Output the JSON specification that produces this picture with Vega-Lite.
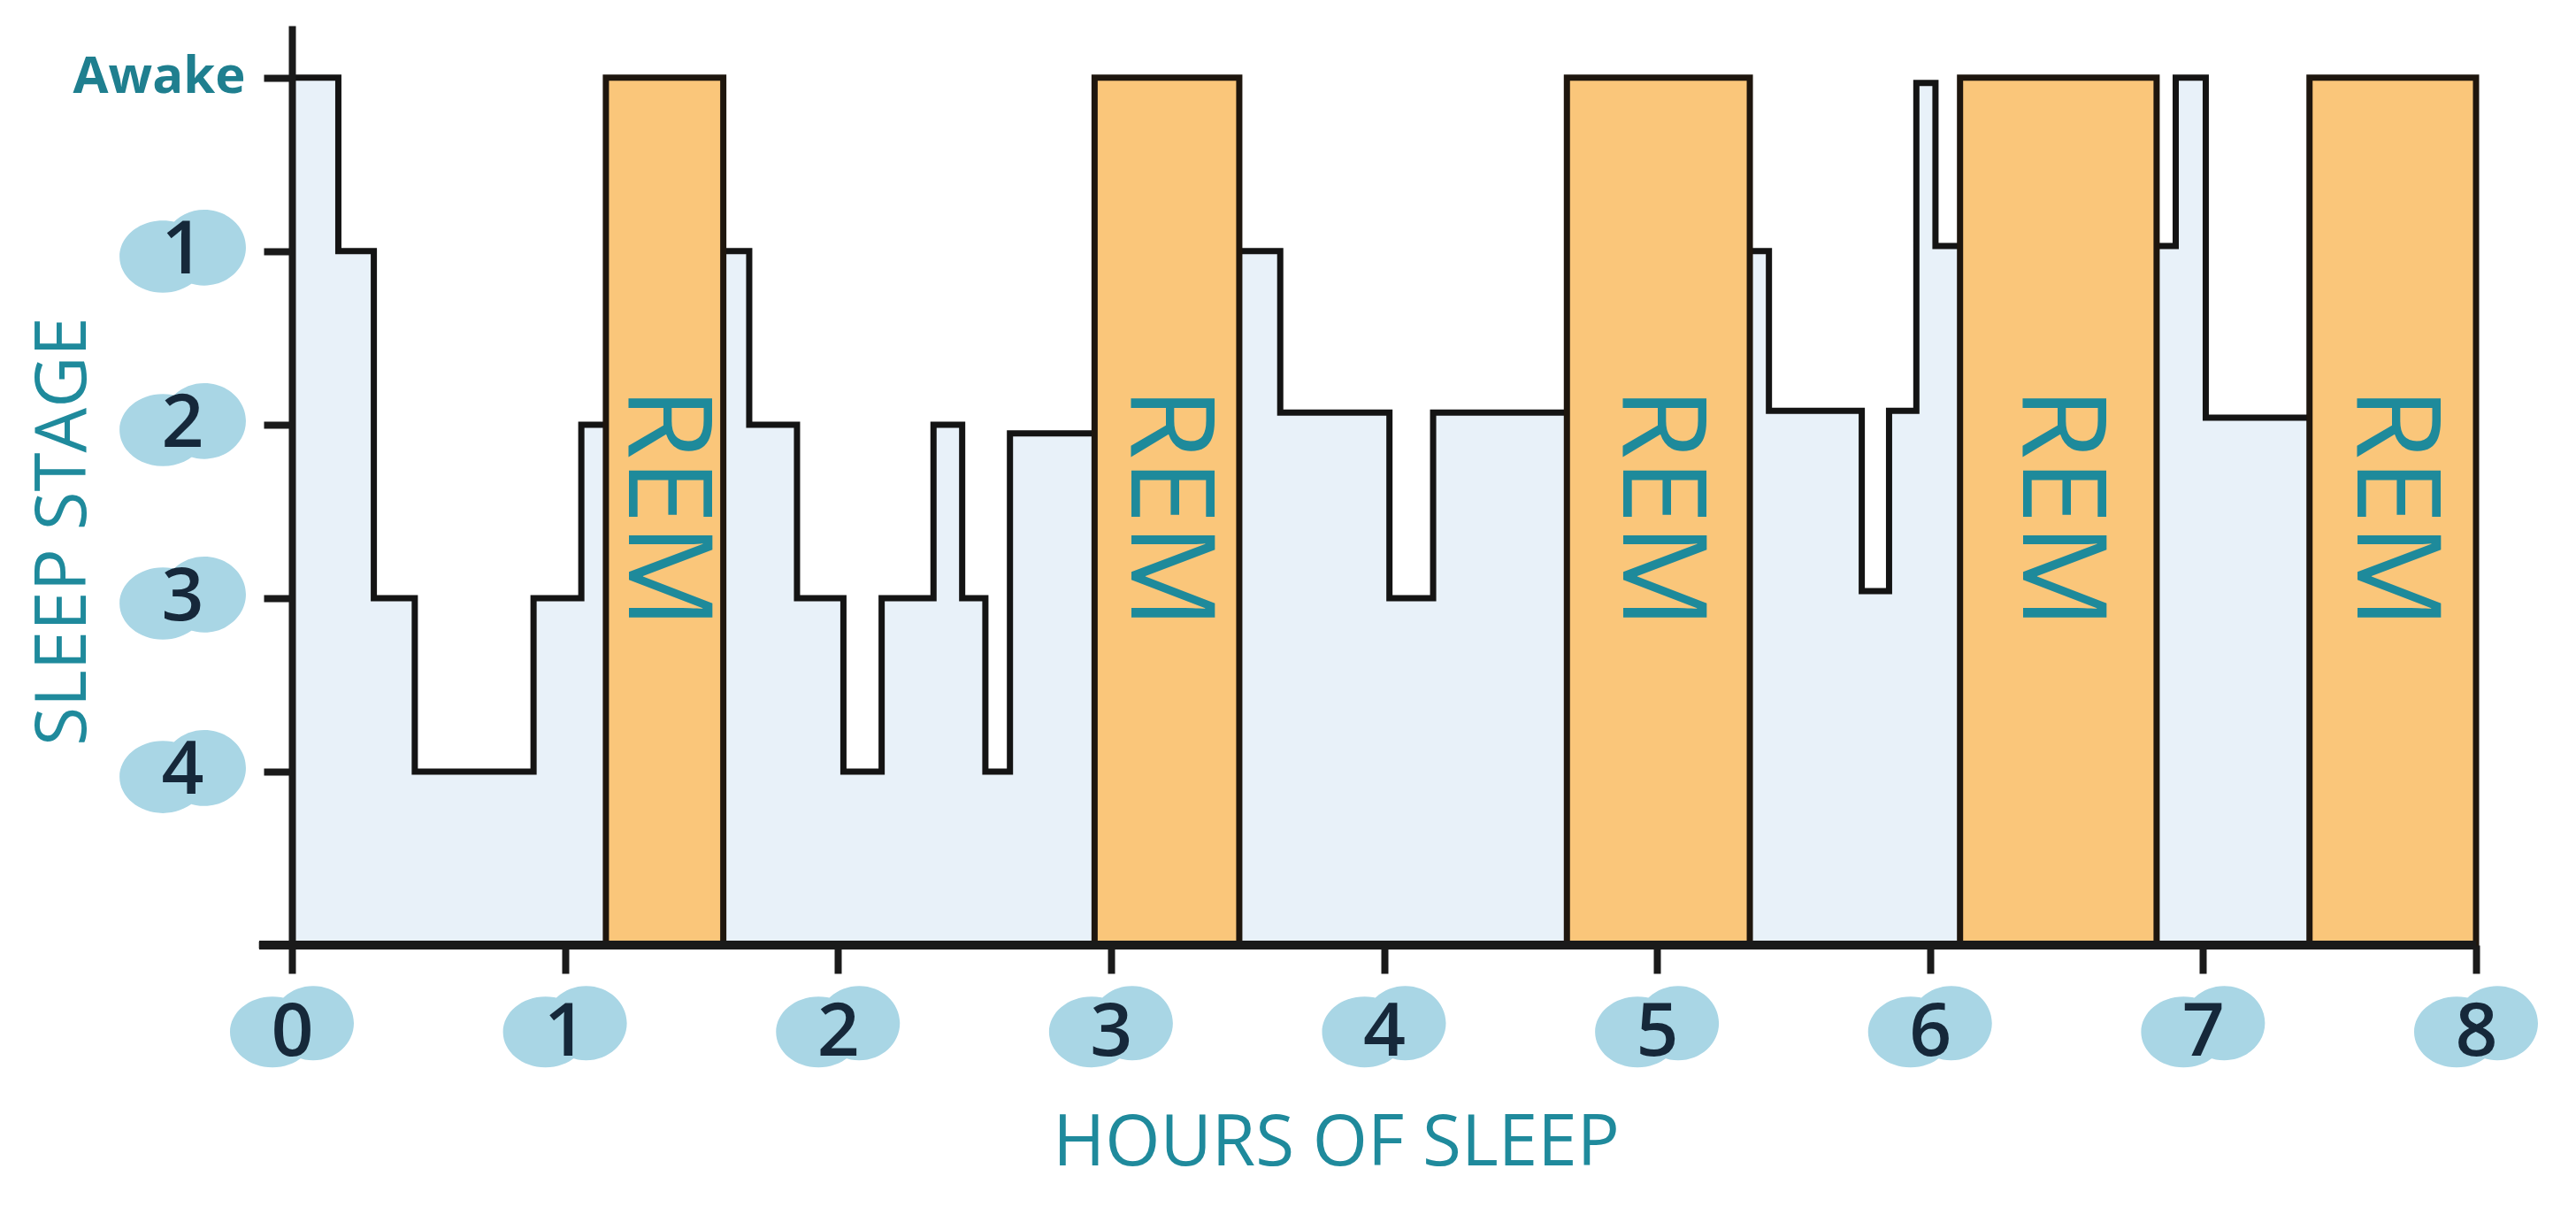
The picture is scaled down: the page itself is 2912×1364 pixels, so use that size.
{
  "$schema": "https://vega.github.io/schema/vega-lite/v6.json",
  "width": 2469,
  "height": 1039,
  "autosize": {"type": "none"},
  "padding": {"left": 330, "top": 29, "right": 113, "bottom": 296},
  "background": "white",
  "config": {
    "view": {"stroke": null},
    "axisX": {
      "domain": false, "grid": false,
      "tickSize": 32, "tickWidth": 8, "tickColor": "#1a1a1a",
      "labelFont": "Open Sans", "labelFontSize": 84, "labelFontWeight": 600, "labelColor": "#16283a",
      "labelPadding": 26, "labelFlush": false, "labelOverlap": false,
      "titleFont": "Open Sans", "titleFontSize": 80, "titleFontWeight": 500,
      "titleColor": "#1f8a9c"
    },
    "axisY": {
      "domain": true, "domainColor": "#1a1a1a", "domainWidth": 8, "grid": false,
      "tickSize": 32, "tickWidth": 8, "tickColor": "#1a1a1a",
      "labelFont": "Open Sans", "labelFontSize": 84, "labelFontWeight": 600, "labelColor": "#16283a",
      "labelAlign": "center", "labelPadding": 92, "labelBaseline": "middle",
      "labelFlush": false, "labelOverlap": false,
      "titleFont": "Open Sans", "titleFontSize": 80, "titleFontWeight": 500,
      "titleColor": "#1f8a9c"
    }
  },
  "datasets": {
    "hypno": [
      {"seg": "A", "hour": 0, "stage": 0},
      {"seg": "A", "hour": 0.17, "stage": 1},
      {"seg": "A", "hour": 0.30, "stage": 3},
      {"seg": "A", "hour": 0.45, "stage": 4},
      {"seg": "A", "hour": 0.885, "stage": 3},
      {"seg": "A", "hour": 1.06, "stage": 2},
      {"seg": "A", "hour": 1.15, "stage": 2},
      {"seg": "B", "hour": 1.58, "stage": 1},
      {"seg": "B", "hour": 1.675, "stage": 2},
      {"seg": "B", "hour": 1.85, "stage": 3},
      {"seg": "B", "hour": 2.02, "stage": 4},
      {"seg": "B", "hour": 2.16, "stage": 3},
      {"seg": "B", "hour": 2.35, "stage": 2},
      {"seg": "B", "hour": 2.455, "stage": 3},
      {"seg": "B", "hour": 2.54, "stage": 4},
      {"seg": "B", "hour": 2.63, "stage": 2.05},
      {"seg": "B", "hour": 2.94, "stage": 2.05},
      {"seg": "C", "hour": 3.47, "stage": 1},
      {"seg": "C", "hour": 3.62, "stage": 1.93},
      {"seg": "C", "hour": 4.02, "stage": 3},
      {"seg": "C", "hour": 4.18, "stage": 1.93},
      {"seg": "C", "hour": 4.67, "stage": 1.93},
      {"seg": "D", "hour": 5.34, "stage": 1},
      {"seg": "D", "hour": 5.41, "stage": 1.92},
      {"seg": "D", "hour": 5.75, "stage": 2.96},
      {"seg": "D", "hour": 5.85, "stage": 1.92},
      {"seg": "D", "hour": 5.95, "stage": 0.03},
      {"seg": "D", "hour": 6.02, "stage": 0.97},
      {"seg": "D", "hour": 6.11, "stage": 0.97},
      {"seg": "E", "hour": 6.83, "stage": 0.97},
      {"seg": "E", "hour": 6.90, "stage": 0},
      {"seg": "E", "hour": 7.01, "stage": 1.96},
      {"seg": "E", "hour": 7.39, "stage": 1.96}
    ],
    "rem": [
      {"start": 1.15, "end": 1.58, "label": "REM"},
      {"start": 2.94, "end": 3.47, "label": "REM"},
      {"start": 4.67, "end": 5.34, "label": "REM"},
      {"start": 6.11, "end": 6.83, "label": "REM"},
      {"start": 7.39, "end": 8.0, "label": "REM"}
    ],
    "xlabels": [
      {"hour": 0}, {"hour": 1}, {"hour": 2}, {"hour": 3}, {"hour": 4},
      {"hour": 5}, {"hour": 6}, {"hour": 7}, {"hour": 8}
    ],
    "ylabels": [
      {"stage": 1}, {"stage": 2}, {"stage": 3}, {"stage": 4}
    ],
    "awake": [
      {"stage": 0, "label": "Awake"}
    ]
  },
  "layer": [
    {
      "data": {"name": "hypno"},
      "mark": {"type": "area", "interpolate": "step-after", "color": "#E8F1F9"},
      "encoding": {
        "x": {
          "field": "hour", "type": "quantitative",
          "scale": {"domain": [0, 8], "nice": false, "zero": false},
          "axis": {
            "title": "HOURS OF SLEEP",
            "values": [0, 1, 2, 3, 4, 5, 6, 7, 8],
            "format": "d",
            "titleX": 1180, "titleY": 224, "titleAlign": "center", "titleBaseline": "middle",
            "zindex": 1
          }
        },
        "y": {
          "field": "stage", "type": "quantitative",
          "scale": {"domain": [-0.3, 5], "reverse": true, "nice": false, "zero": false},
          "axis": {
            "title": "SLEEP STAGE",
            "values": [0, 1, 2, 3, 4],
            "format": "d",
            "labelExpr": "datum.value == 0 ? '' : datum.label",
            "titleX": -258, "titleY": 571, "titleAngle": 270,
            "titleAlign": "center", "titleBaseline": "middle",
            "zindex": 1
          }
        },
        "y2": {"datum": 5},
        "detail": {"field": "seg"}
      }
    },
    {
      "data": {"name": "hypno"},
      "mark": {"type": "line", "interpolate": "step-after", "color": "#141414", "strokeWidth": 7, "strokeJoin": "miter"},
      "encoding": {
        "x": {"field": "hour", "type": "quantitative"},
        "y": {"field": "stage", "type": "quantitative"},
        "detail": {"field": "seg"}
      }
    },
    {
      "data": {"name": "rem"},
      "mark": {"type": "rect", "fill": "#FAC67A", "stroke": "#1e160e", "strokeWidth": 7},
      "encoding": {
        "x": {"field": "start", "type": "quantitative"},
        "x2": {"field": "end"},
        "y": {"datum": 0},
        "y2": {"datum": 5}
      }
    },
    {
      "data": {"name": "rem"},
      "transform": [{"calculate": "(datum.start + datum.end) / 2", "as": "mid"}],
      "mark": {"type": "text", "angle": 90, "align": "center", "baseline": "middle", "font": "Open Sans", "fontWeight": "normal", "fontSize": 132, "color": "#1e8a9b"},
      "encoding": {
        "x": {"field": "mid", "type": "quantitative"},
        "y": {"datum": 2.48},
        "text": {"field": "label"}
      }
    },
    {
      "data": {"name": "xlabels"},
      "mark": {"type": "point", "filled": true, "opacity": 1, "color": "#A9D6E5", "size": 19600,
               "shape": "M -1 0.086 A 0.686 0.571 0 1 0 0.372 0.086 A 0.686 0.571 0 1 0 -1 0.086 Z M -0.314 -0.057 A 0.657 0.6 0 1 0 1 -0.057 A 0.657 0.6 0 1 0 -0.314 -0.057 Z"},
      "encoding": {
        "x": {"field": "hour", "type": "quantitative"},
        "y": {"datum": 5.47}
      }
    },
    {
      "data": {"name": "ylabels"},
      "mark": {"type": "point", "filled": true, "opacity": 1, "color": "#A9D6E5", "size": 20400,
               "shape": "M -1 0.086 A 0.686 0.571 0 1 0 0.372 0.086 A 0.686 0.571 0 1 0 -1 0.086 Z M -0.314 -0.057 A 0.657 0.6 0 1 0 1 -0.057 A 0.657 0.6 0 1 0 -0.314 -0.057 Z"},
      "encoding": {
        "x": {"datum": -0.40},
        "y": {"field": "stage", "type": "quantitative"}
      }
    },
    {
      "data": {"name": "awake"},
      "mark": {"type": "text", "align": "right", "baseline": "middle", "font": "Open Sans", "fontWeight": "bold", "fontSize": 58, "color": "#1f7f8f"},
      "encoding": {
        "x": {"datum": -0.17},
        "y": {"field": "stage", "type": "quantitative"},
        "text": {"field": "label"}
      }
    },
    {
      "data": {"name": "xlabels"},
      "mark": {"type": "rule", "color": "#1a1a1a", "strokeWidth": 9},
      "encoding": {
        "x": {"datum": -0.12},
        "x2": {"datum": 8},
        "y": {"datum": 5}
      }
    }
  ]
}
